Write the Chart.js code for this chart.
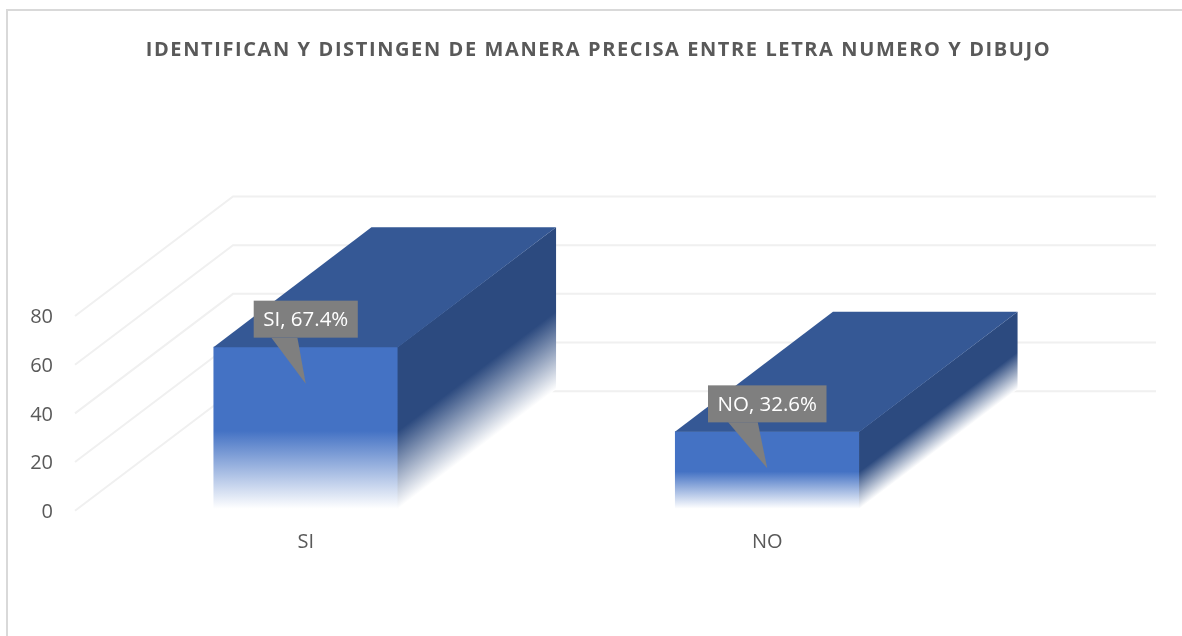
<!DOCTYPE html>
<html><head><meta charset="utf-8">
<style>
html,body{margin:0;padding:0;background:#fff;overflow:hidden}
#wrap{position:relative;width:1182px;height:636px;overflow:hidden}
#frame{position:absolute;left:6px;top:9px;width:1240px;height:700px;border:2px solid #d9d9d9;box-sizing:border-box;pointer-events:none}
canvas{position:absolute;left:0;top:0}
</style>
<script src="https://cdn.jsdelivr.net/npm/chart.js@4"></script>
</head><body>
<div id="wrap"><canvas id="c" width="1182" height="636"></canvas><div id="frame"></div></div>
<script>
const categories = ["SI", "NO"];
const percentages = [67.4, 32.6];
const yTicks = [0, 20, 40, 60, 80];
const chartTitle = "IDENTIFICAN Y DISTINGEN DE MANERA PRECISA ENTRE LETRA NUMERO Y DIBUJO";

const DX = 158, DY = -119.5;
const FONT = "'Open Sans', sans-serif";
const FADE = 0.52;

function fade(ctx, y0, y1, color) {
  const g = ctx.createLinearGradient(0, y0, 0, y1);
  g.addColorStop(0, color);
  g.addColorStop(FADE, color);
  g.addColorStop(1, "#ffffff");
  return g;
}

const cube = {
  id: "cube",
  afterLayout(chart) {
    const t = chart.titleBlock;
    if (t && !t._spaced) {
      const orig = t.draw;
      t.draw = function () {
        this.ctx.letterSpacing = "1.6px";
        orig.call(this);
        this.ctx.letterSpacing = "0px";
      };
      t._spaced = true;
    }
    const y = chart.scales.y;
    if (y && !y._shifted) {
      const origLabels = y.drawLabels;
      y.drawLabels = function (area) {
        this.ctx.save();
        this.ctx.translate(0, 1.5);
        origLabels.call(this, area);
        this.ctx.restore();
      };
      y._shifted = true;
    }
  },
  beforeDatasetsDraw(chart) {
    const { ctx, chartArea: a, scales: { y } } = chart;
    ctx.save();
    ctx.strokeStyle = "#f0f0f0";
    ctx.lineWidth = 2;
    yTicks.forEach(v => {
      const p = y.getPixelForValue(v);
      ctx.beginPath();
      ctx.moveTo(a.left, p);
      ctx.lineTo(a.left + DX, p + DY);
      ctx.lineTo(a.right + DX, p + DY);
      ctx.stroke();
    });
    ctx.restore();
  },
  afterDatasetsDraw(chart) {
    const { ctx, scales: { y } } = chart;
    const base = y.getPixelForValue(0);
    chart.getDatasetMeta(0).data.forEach((bar, i) => {
      const half = bar.width / 2, l = bar.x - half, r = bar.x + half, top = bar.y;
      // side face
      ctx.save();
      ctx.transform(1, DY / DX, 0, 1, r, 0);
      ctx.fillStyle = fade(ctx, top, base - 2, "#2c4a7f");
      ctx.fillRect(-0.5, top, DX + 0.5, base - 2 - top);
      ctx.restore();
      // top face, slightly overlapping the seams with the other faces
      ctx.fillStyle = "#355895";
      ctx.beginPath();
      ctx.moveTo(l, top + 0.5); ctx.lineTo(l + DX, top + DY);
      ctx.lineTo(r + DX, top + DY); ctx.lineTo(r, top + 0.5);
      ctx.closePath(); ctx.fill();
      // callout
      const label = categories[i] + ", " + percentages[i] + "%";
      ctx.save();
      ctx.font = "20.5px " + FONT;
      const w = ctx.measureText(label).width + 19;
      const tipY = top + 37, boxT = tipY - 83, boxB = tipY - 46, boxL = bar.x - w / 2;
      ctx.fillStyle = "#7f7f7f";
      ctx.fillRect(boxL, boxT, w, boxB - boxT);
      ctx.beginPath();
      ctx.moveTo(boxL + w * 0.17, boxB); ctx.lineTo(bar.x, tipY); ctx.lineTo(boxL + w * 0.42, boxB);
      ctx.closePath(); ctx.fill();
      ctx.fillStyle = "#ffffff";
      ctx.textAlign = "center"; ctx.textBaseline = "middle";
      ctx.fillText(label, bar.x, (boxT + boxB) / 2 + 1);
      ctx.restore();
    });
  }
};

new Chart(document.getElementById("c"), {
  type: "bar",
  data: {
    labels: categories,
    datasets: [{
      data: percentages,
      barPercentage: 0.4,
      categoryPercentage: 1,
      borderWidth: 0,
      backgroundColor(c) {
        const chart = c.chart;
        if (!chart.chartArea || c.parsed === undefined) return "#4472c4";
        const y = chart.scales.y;
        return fade(chart.ctx, y.getPixelForValue(c.parsed.y), y.getPixelForValue(0) - 2, "#4472c4");
      }
    }]
  },
  options: {
    responsive: false,
    animation: false,
    layout: { padding: { left: 15, right: 0, top: 0, bottom: 65.3 } },
    plugins: {
      legend: { display: false },
      tooltip: { enabled: false },
      title: {
        display: true,
        text: chartTitle,
        color: "#595959",
        font: { family: FONT, size: 20, weight: "bold", lineHeight: 1.2 },
        padding: { top: 38, bottom: 254 }
      }
    },
    scales: {
      x: {
        grid: { display: false, drawTicks: false },
        border: { display: false },
        ticks: { color: "#595959", padding: 20, font: { family: FONT, size: 20 } },
        afterFit(s) { s.height = 60; }
      },
      y: {
        min: 0, max: 80,
        afterBuildTicks(s) { s.ticks = yTicks.map(v => ({ value: v })); },
        grid: { display: false, drawTicks: false },
        border: { display: false },
        ticks: { color: "#595959", padding: 22, font: { family: FONT, size: 20 } },
        afterFit(s) { s.width = 60; }
      },
      depth: {
        position: "right",
        display: true,
        grid: { display: false, drawTicks: false },
        border: { display: false },
        ticks: { display: false },
        afterFit(s) { s.width = 184; }
      }
    }
  },
  plugins: [cube]
});
</script>
</body></html>
